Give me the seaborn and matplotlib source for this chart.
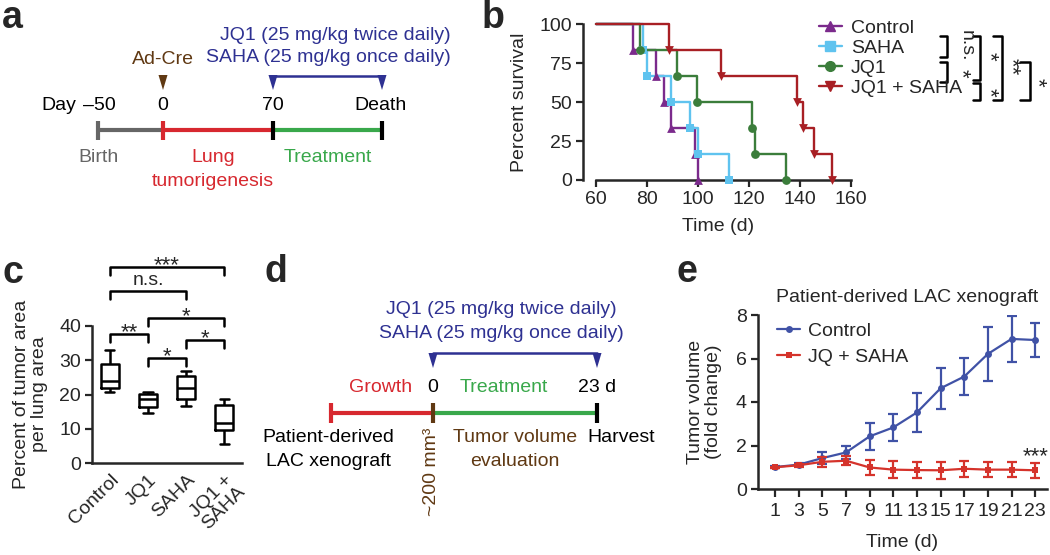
import numpy as np
import pandas as pd
import matplotlib
matplotlib.use('Agg')
import matplotlib.pyplot as plt
from matplotlib.lines import Line2D
from matplotlib.patches import Polygon
import seaborn as sns

# ---- panel b: survival (day of each death, percent surviving after it) ----
surv_groups = ['Control', 'SAHA', 'JQ1', 'JQ1 + SAHA']
control_days = [74.5, 83.6, 86.7, 89.6, 98.9, 100.0]
saha_days = [78.4, 79.9, 89.6, 96.9, 100.0, 112.3]
jq1_days = [77.3, 91.6, 99.6, 121.3, 122.3, 134.5]
combo_days = [88.7, 109.2, 138.7, 141.3, 145.6, 152.7]
surv_pct = [83.3, 66.7, 50.0, 33.3, 16.7, 0.0]
surv_start_day = 60
surv_colors = ['#7b2a8c', '#5fc3ef', '#3b7d3b', '#a81f24']
surv_markers = ['^', 's', 'o', 'v']

# ---- panel c: tumor area (min, q1, median, q3, max) ----
box_labels = ['Control', 'JQ1', 'SAHA', 'JQ1 +\nSAHA']
box_control = [20.8, 21.9, 24.0, 29.0, 32.9]
box_jq1 = [14.6, 16.3, 18.7, 20.1, 20.6]
box_saha = [16.7, 18.7, 21.9, 25.3, 26.9]
box_combo = [5.6, 9.7, 11.7, 16.9, 18.7]

# ---- panel e: xenograft tumor volume ----
xeno_days = [1, 3, 5, 7, 9, 11, 13, 15, 17, 19, 21, 23]
xeno_control = [1.01, 1.12, 1.42, 1.68, 2.42, 2.83, 3.52, 4.63, 5.17, 6.21, 6.90, 6.85]
xeno_control_err = [0.03, 0.08, 0.27, 0.31, 0.63, 0.63, 0.90, 0.95, 0.87, 1.25, 1.06, 0.80]
xeno_combo = [1.00, 1.09, 1.25, 1.30, 0.99, 0.89, 0.87, 0.86, 0.93, 0.89, 0.89, 0.86]
xeno_combo_err = [0.03, 0.08, 0.22, 0.20, 0.36, 0.38, 0.38, 0.38, 0.38, 0.33, 0.33, 0.34]

BLUE = '#2e3192'
BROWN = '#603913'
RED = '#d7282f'
GREEN = '#39a84b'
GRAY = '#666666'
FS = 14
STAR = 16

W, H = 1050, 555

sns.set_style('ticks')
plt.rcParams['font.family'] = ['Liberation Sans', 'DejaVu Sans']
plt.rcParams['axes.linewidth'] = 1.8
plt.rcParams['xtick.major.width'] = 1.6
plt.rcParams['ytick.major.width'] = 1.6
plt.rcParams['xtick.labelsize'] = FS
plt.rcParams['ytick.labelsize'] = FS
plt.rcParams['axes.labelsize'] = FS


def px_box(left, top, right, bottom):
    return [left / W, 1 - bottom / H, (right - left) / W, (bottom - top) / H]


fig = plt.figure(figsize=(10.5, 5.55), dpi=100)

# overlay in pixel coordinates for schematics and annotations
ov = fig.add_axes([0, 0, 1, 1])
ov.set_xlim(0, W)
ov.set_ylim(H, 0)
ov.axis('off')


def txt(x, y, s, color='black', ha='center', **kw):
    ov.text(x, y, s, color=color, ha=ha, va='center', fontsize=FS, **kw)


def tri(x, tip, color):
    ov.add_patch(Polygon([[x - 4.5, tip - 15], [x + 4.5, tip - 15], [x, tip]],
                         closed=True, color=color, lw=0))


def seg(x0, x1, y, color, lw=3):
    ov.plot([x0, x1], [y, y], color=color, lw=lw, solid_capstyle='butt')


def tick(x, y0, y1, color):
    ov.plot([x, x], [y0, y1], color=color, lw=3, solid_capstyle='butt')


def star_size(lab):
    return STAR if '*' in lab else FS


# panel labels
for lab, x, y in [('a', 2, 28), ('b', 482, 28), ('c', 2, 283),
                  ('d', 265, 282), ('e', 677, 282)]:
    ov.text(x, y, lab, fontsize=27, fontweight='bold', va='baseline', ha='left')

# ---- panel a: timeline ----
txt(451, 35, 'JQ1 (25 mg/kg twice daily)', BLUE, ha='right')
txt(451, 58, 'SAHA (25 mg/kg once daily)', BLUE, ha='right')
txt(163, 60, 'Ad-Cre', BROWN)
tri(163, 90, BROWN)
ov.plot([273, 382], [76, 76], color=BLUE, lw=1.8)
tri(273, 90, BLUE)
tri(382, 90, BLUE)
txt(76, 105, 'Day', ha='right')
txt(83, 105, '\u201350', ha='left')
txt(163, 105, '0')
txt(273, 105, '70')
txt(380, 105, 'Death')
seg(98, 163, 130, GRAY)
seg(163, 273, 130, RED)
seg(273, 382, 130, GREEN)
tick(98, 121, 140, GRAY)
tick(163, 121, 140, RED)
tick(273, 121, 140, 'black')
tick(382, 121, 140, 'black')
txt(98, 158, 'Birth', GRAY)
txt(213, 158, 'Lung', RED)
txt(213, 182, 'tumorigenesis', RED)
txt(328, 158, 'Treatment', GREEN)

# ---- panel d: timeline ----
txt(501, 310, 'JQ1 (25 mg/kg twice daily)', BLUE)
txt(501, 333, 'SAHA (25 mg/kg once daily)', BLUE)
ov.plot([433, 597], [353, 353], color=BLUE, lw=1.8)
tri(433, 368, BLUE)
tri(597, 368, BLUE)
txt(381, 387, 'Growth', RED)
txt(433, 387, '0')
txt(504, 387, 'Treatment', GREEN)
txt(597, 387, '23 d')
seg(331, 433, 413, RED)
seg(433, 597, 413, GREEN)
tick(331, 403, 423, RED)
tick(433, 403, 423, BROWN)
tick(597, 403, 423, 'black')
txt(328, 438, 'Patient-derived')
txt(328, 462, 'LAC xenograft')
ov.text(432, 428, '~200 mm\u00b3', color=BROWN, rotation=90, ha='center',
        va='top', fontsize=FS)
txt(515, 438, 'Tumor volume', BROWN)
txt(515, 462, 'evaluation', BROWN)
txt(621, 438, 'Harvest')

# ---- panel b: survival curves ----
axb = fig.add_axes(px_box(583, 24.3, 854, 180))
axb.set_facecolor('none')
surv_days = [control_days, saha_days, jq1_days, combo_days]
handles = []
for name, days, col, mk in zip(surv_groups, surv_days, surv_colors, surv_markers):
    xs = [surv_start_day] + days
    ys = [100] + surv_pct
    sns.lineplot(x=xs, y=ys, drawstyle='steps-post', color=col, lw=1.7,
                 estimator=None, sort=False, ax=axb, clip_on=False)
    sns.scatterplot(x=days, y=surv_pct, marker=mk, color=col, s=40,
                    linewidth=0, ax=axb, clip_on=False, zorder=4)
    handles.append(Line2D([], [], color=col, marker=mk, lw=1.7, markersize=7))
axb.set_xlim(54.9, 161.2)
axb.set_ylim(0, 100)
axb.set_xticks([60, 80, 100, 120, 140, 160])
axb.set_yticks([0, 25, 50, 75, 100])
sns.despine(ax=axb)
axb.spines['bottom'].set_bounds(60, 160)
axb.spines['left'].set_bounds(0, 100)
axb.tick_params(length=5, pad=3)
axb.set_xlabel('Time (d)', labelpad=7)
axb.set_ylabel('Percent survival', labelpad=8)
axb.legend(handles, surv_groups, loc='upper left', frameon=False,
           bbox_to_anchor=(0.87, 1.03), borderpad=0, borderaxespad=0,
           handlelength=1.2, handletextpad=0.45, labelspacing=0.12, fontsize=FS)

# significance brackets beside the legend
b_brackets = [(940, 947, 36, 57, 'n.s.', 966, 46),
              (940, 947, 62, 82, '*', 961, 73),
              (973, 980, 36, 80, '*', 989, 56),
              (973, 980, 83, 100, '*', 989, 92),
              (993, 1002, 36, 100, '**', 1011, 67),
              (1020, 1030, 62, 100, '*', 1037, 82)]
for x0, x1, y0, y1, lab, tx, ty in b_brackets:
    ov.plot([x0, x1, x1, x0], [y0, y0, y1, y1], color='black', lw=1.8)
    ov.text(tx, ty, lab, rotation=-90, ha='center', va='center',
            fontsize=star_size(lab))

# ---- panel c: box plot ----
axc = fig.add_axes(px_box(92, 326, 242, 463))
axc.set_facecolor('none')
box_df = pd.DataFrame({
    'group': np.repeat(box_labels, 5),
    'value': box_control + box_jq1 + box_saha + box_combo,
})
sns.boxplot(data=box_df, x='group', y='value', order=box_labels, fill=False,
            color='black', whis=(0, 100), width=0.48, linewidth=1.8, ax=axc)
axc.set_xlim(-0.47, 3.47)
axc.set_ylim(0, 40)
axc.set_yticks([0, 10, 20, 30, 40])
sns.despine(ax=axc)
axc.tick_params(length=5, pad=3)
axc.tick_params(axis='x', length=0, pad=6)
axc.set_xticks(range(4))
axc.set_xticklabels(box_labels, rotation=45, ha='right', rotation_mode='anchor',
                    fontsize=FS, linespacing=1.0)
axc.set_xlabel('')
axc.set_ylabel('Percent of tumor area\nper lung area', labelpad=8, linespacing=1.05)

c_brackets = [(0, 1, 37.6, '**'), (1, 2, 30.7, '*'), (2, 3, 36.0, '*'),
              (1, 3, 42.3, '*'), (0, 2, 50.2, 'n.s.'), (0, 3, 57.3, '***')]
for i0, i1, top, lab in c_brackets:
    axc.plot([i0, i0, i1, i1], [top - 2.3, top, top, top - 2.3], color='black',
             lw=1.8, clip_on=False)
    off = 1.9 if lab == 'n.s.' else -1.2
    axc.text((i0 + i1) / 2, top + off, lab, ha='center', va='baseline',
             fontsize=star_size(lab))

# ---- panel e: xenograft growth ----
E_BLUE = '#4052a6'
E_RED = '#d5332b'
axe = fig.add_axes(px_box(758, 315, 1047, 489))
axe.set_facecolor('none')
for mean, err, col, mk, lab in [(xeno_control, xeno_control_err, E_BLUE, 'o', 'Control'),
                                (xeno_combo, xeno_combo_err, E_RED, 's', 'JQ + SAHA')]:
    sns.lineplot(x=xeno_days, y=mean, color=col, marker=mk, markersize=5,
                 markeredgewidth=0, lw=1.6, ax=axe, label=lab, estimator=None)
    axe.errorbar(xeno_days, mean, yerr=err, fmt='none', ecolor=col,
                 elinewidth=1.6, capsize=3.5, capthick=1.6)
axe.set_xlim(-0.44, 24)
axe.set_ylim(0, 8)
axe.set_xticks(xeno_days)
axe.set_yticks([0, 2, 4, 6, 8])
sns.despine(ax=axe)
axe.tick_params(length=5, pad=3)
axe.tick_params(axis='x', length=6, pad=4)
axe.set_xlabel('Time (d)', labelpad=10)
axe.set_ylabel('Tumor volume\n(fold change)', labelpad=10, linespacing=1.05)
axe.legend(loc='upper left', frameon=False, bbox_to_anchor=(0.066, 0.96),
           borderpad=0, borderaxespad=0, handlelength=1.2, handletextpad=0.4,
           labelspacing=0.45, fontsize=FS)
ov.text(907, 297, 'Patient-derived LAC xenograft', ha='center', va='center',
        fontsize=FS)
ov.text(1049, 462, '***', ha='right', va='baseline', fontsize=STAR)

fig.savefig('out.png', dpi=100)
